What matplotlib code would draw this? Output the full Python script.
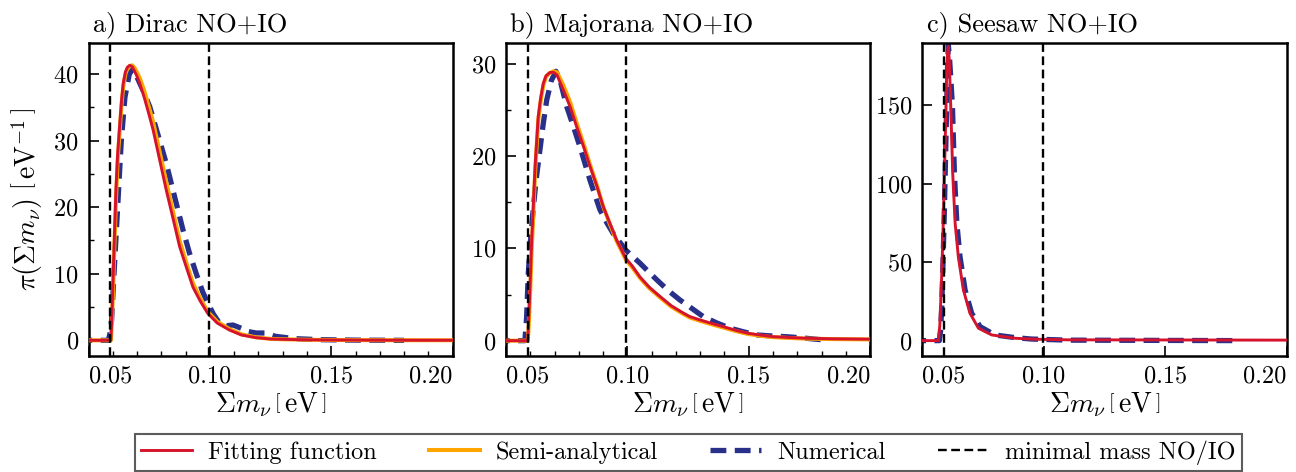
import numpy as np
import matplotlib
matplotlib.use('Agg')
import matplotlib.pyplot as plt
from matplotlib.ticker import MultipleLocator

plt.rcParams['font.family'] = 'serif'
plt.rcParams['font.serif'] = ['cmr10']
plt.rcParams['mathtext.fontset'] = 'cm'
plt.rcParams['axes.unicode_minus'] = False
plt.rcParams['axes.formatter.use_mathtext'] = True

# ---- a) Dirac ----
dirac_x = [0.045, 0.0592, 0.0596, 0.0602, 0.0607, 0.0613, 0.0620, 0.0629, 0.0636, 0.0643,
           0.0652, 0.0660, 0.0670, 0.0680, 0.0690, 0.0700, 0.0711, 0.0730, 0.0750, 0.0766,
           0.0790, 0.0820, 0.0850, 0.0875, 0.0900, 0.0930, 0.0960, 0.0991, 0.1030, 0.1080,
           0.1130, 0.1190, 0.1250, 0.1300, 0.1400, 0.1500, 0.1700, 0.2050]
dirac_fit = [0, 0, 3.5, 10.1, 16.0, 22.6, 28.0, 32.6, 36.0, 38.6,
             40.3, 41.0, 41.3, 41.1, 40.4, 39.6, 38.6, 36.4, 33.8, 31.6,
             27.6, 22.6, 18.0, 14.1, 11.3, 8.0, 5.9, 4.05, 2.6, 1.55,
             0.8, 0.4, 0.2, 0.15, 0.08, 0.05, 0.02, 0.01]
dirac_semi = [0, 0, 2.5, 8.5, 14.5, 21.0, 27.0, 31.8, 35.4, 38.1,
              40.0, 40.8, 41.2, 41.3, 40.9, 40.2, 39.4, 37.4, 34.9, 32.8,
              28.8, 23.8, 19.0, 15.0, 12.0, 8.6, 6.3, 4.3, 2.8, 1.7,
              0.9, 0.45, 0.22, 0.16, 0.09, 0.05, 0.02, 0.01]
dirac_num_x = [0.045, 0.0582, 0.0588, 0.0595, 0.0605, 0.0620, 0.0635, 0.0650, 0.0668, 0.0684,
               0.0700, 0.0725, 0.0752, 0.0785, 0.0820, 0.0855, 0.0889, 0.0915, 0.0943, 0.0970,
               0.0991, 0.1015, 0.1039, 0.1070, 0.1095, 0.1130, 0.1160, 0.1190, 0.1230, 0.1270,
               0.1350, 0.1450, 0.1600, 0.1800]
dirac_num = [0, 0, 1.0, 3.0, 10.0, 20.0, 30.0, 36.5, 40.0, 40.8,
             39.5, 37.5, 35.1, 31.0, 26.6, 21.5, 16.6, 13.2, 10.1, 7.3,
             5.6, 3.9, 2.6, 2.2, 2.3, 1.8, 1.3, 1.1, 1.1, 0.6,
             0.25, 0.1, 0.03, 0.0]

# ---- b) Majorana ----
major_x = [0.045, 0.0590, 0.0594, 0.0600, 0.0606, 0.0613, 0.0620, 0.0627, 0.0633, 0.0643,
           0.0654, 0.0665, 0.0680, 0.0695, 0.0710, 0.0736, 0.0765, 0.0791, 0.0820, 0.0846,
           0.0875, 0.0901, 0.0930, 0.0956, 0.0975, 0.0994, 0.1020, 0.1052, 0.1090, 0.1134,
           0.1180, 0.1230, 0.1258, 0.1299, 0.1350, 0.1395, 0.1450, 0.1498, 0.1550, 0.1600,
           0.1680, 0.1738, 0.1850, 0.2050]
major_fit = [0, 0, 2.5, 6.5, 10.9, 14.8, 18.9, 21.8, 24.3, 26.3,
             27.9, 28.7, 29.05, 29.1, 28.8, 27.2, 25.3, 23.2, 21.0, 18.9,
             16.7, 14.5, 12.6, 10.9, 9.9, 8.9, 8.1, 6.9, 5.8, 4.8,
             3.8, 3.0, 2.6, 2.25, 1.85, 1.52, 1.1, 0.8, 0.6, 0.43,
             0.33, 0.26, 0.2, 0.15]
major_semi = [0, 0, 1.8, 5.5, 9.8, 14.0, 18.2, 21.3, 23.9, 26.0,
              27.7, 28.6, 29.0, 29.2, 29.1, 27.7, 25.8, 23.6, 21.3, 19.1,
              16.8, 14.5, 12.5, 10.8, 9.8, 8.75, 7.95, 6.8, 5.7, 4.7,
              3.7, 2.9, 2.5, 2.15, 1.75, 1.42, 1.02, 0.72, 0.52, 0.38,
              0.28, 0.22, 0.17, 0.12]
major_num_x = [0.045, 0.0578, 0.0585, 0.0592, 0.0600, 0.0613, 0.0626, 0.0640, 0.0654, 0.0668,
               0.0687, 0.0706, 0.0725, 0.0750, 0.0778, 0.0805, 0.0846, 0.0887, 0.0915, 0.0942,
               0.0968, 0.0994, 0.1023, 0.1052, 0.1090, 0.1121, 0.1170, 0.1217, 0.1260, 0.1313,
               0.1370, 0.1423, 0.1480, 0.1533, 0.1600, 0.1656, 0.1720, 0.1800]
major_num = [0, 0, 2.5, 7.3, 10.5, 14.5, 17.8, 20.7, 23.6, 26.1,
             28.2, 29.2, 28.0, 25.4, 23.2, 21.0, 17.4, 14.2, 12.8, 11.6,
             10.7, 9.8, 9.1, 8.4, 7.4, 6.6, 5.4, 4.4, 3.6, 2.6,
             1.9, 1.35, 0.95, 0.62, 0.5, 0.43, 0.3, 0.1]

# ---- c) Seesaw ----
seesaw_x = [0.045, 0.0566, 0.0572, 0.0580, 0.0586, 0.0591, 0.0596, 0.0600, 0.0604, 0.0607,
            0.0611, 0.0617, 0.0625, 0.0635, 0.0648, 0.0669, 0.0696, 0.0731, 0.0786, 0.0882,
            0.0964, 0.1100, 0.2050]
seesaw_fit = [0, 0, 10, 43, 75, 106.8, 140, 170.5, 184, 187.5,
              178, 149, 106.8, 74.9, 53.6, 32.3, 17.5, 7.9, 3.6, 1.5,
              0.9, 0.5, 0.3]
seesaw_num_x = [0.045, 0.0570, 0.0575, 0.0580, 0.0586, 0.0591, 0.0596, 0.0600, 0.0604, 0.0607,
                0.0612, 0.0618, 0.0624, 0.0632, 0.0642, 0.0655, 0.0676, 0.0703, 0.0738, 0.0799,
                0.0882, 0.0950, 0.1100, 0.1800]
seesaw_num = [0, 0, 6, 21.7, 55, 85.5, 120, 149, 176, 188.6,
              180, 165, 149, 106.8, 74.9, 53.6, 32.3, 17.5, 8.9, 3.6,
              1.9, 1.0, 0.3, 0.0]

titles = ['a) Dirac NO+IO', 'b) Majorana NO+IO', 'c) Seesaw NO+IO']
m_min = [0.0590, 0.0995]   # minimal mass NO / IO
xticks = [0.05, 0.10, 0.15, 0.20]
xticklabels = ['0.05', '0.10', '0.15', '0.20']
yticks = [[0, 10, 20, 30, 40], [0, 10, 20, 30], [0, 50, 100, 150]]
ylims = [(-2.35, 44.7), (-1.66, 32.3), (-9.8, 190)]

red = '#d5132e'
orange = '#ffa500'
blue = '#29308a'
fs = 17.5
fs_lab = 20

fig = plt.figure(figsize=(12.96, 4.72), dpi=100)
lefts = [0.0683, 0.3904, 0.7117]
axes = [fig.add_axes([l, 0.2458, 0.281, 0.6638]) for l in lefts]

panels = [
    (dirac_x, dirac_fit, dirac_semi, dirac_num_x, dirac_num),
    (major_x, major_fit, major_semi, major_num_x, major_num),
    (seesaw_x, seesaw_fit, None, seesaw_num_x, seesaw_num),
]

for i, ax in enumerate(axes):
    x, fit, semi, nx, num = panels[i]
    ax.plot(nx, num, color=blue, lw=3.8, dashes=(3.0, 1.6), label='Numerical', zorder=2)
    if semi is not None:
        ax.plot(x, semi, color=orange, lw=2.9, label='Semi-analytical', zorder=3)
    ax.plot(x, fit, color=red, lw=2.1, label='Fitting function', zorder=4)
    for m in m_min:
        ax.axvline(m, color='black', lw=1.7, dashes=(3.7, 1.9), zorder=5,
                   label='minimal mass NO/IO' if m == m_min[0] else None)

    ax.set_xlim(0.05, 0.20)
    ax.set_ylim(*ylims[i])
    ax.set_xticks(xticks)
    ax.set_xticklabels(xticklabels)
    labs = ax.get_xticklabels()
    labs[0].set_horizontalalignment('left')
    labs[-1].set_horizontalalignment('right')
    ax.set_yticks(yticks[i])
    if i < 2:
        ax.xaxis.set_minor_locator(MultipleLocator(0.01))
        ax.yaxis.set_minor_locator(MultipleLocator(5))
    ax.tick_params(which='both', direction='in', top=False, right=False, labelsize=fs, pad=7)
    ax.tick_params(which='major', length=7, width=1.2)
    ax.tick_params(which='minor', length=3.5, width=1.0)
    for s in ax.spines.values():
        s.set_linewidth(1.8)
    ax.set_xlabel(r'$\Sigma m_\nu\,\left[\,\mathrm{eV}\,\right]$', fontsize=fs_lab, labelpad=2)
    ax.text(0.012, 1.038, titles[i], transform=ax.transAxes, fontsize=19,
            ha='left', va='baseline')

axes[0].set_ylabel(r'$\pi(\Sigma m_\nu)\ \left[\,\mathrm{eV}^{-1}\,\right]$', fontsize=fs_lab, labelpad=6)

h, l = axes[0].get_legend_handles_labels()
order = [l.index('Fitting function'), l.index('Semi-analytical'),
         l.index('Numerical'), l.index('minimal mass NO/IO')]
leg = fig.legend([h[k] for k in order], [l[k] for k in order], loc='lower center',
                 bbox_to_anchor=(0.531, 0.002), borderaxespad=0, ncol=4, frameon=True,
                 fancybox=False, edgecolor='#333333', fontsize=fs, handlelength=2.1,
                 handletextpad=0.66, columnspacing=2.15, borderpad=0.25)
leg.get_frame().set_linewidth(1.5)

fig.savefig('out.png', dpi=100)
